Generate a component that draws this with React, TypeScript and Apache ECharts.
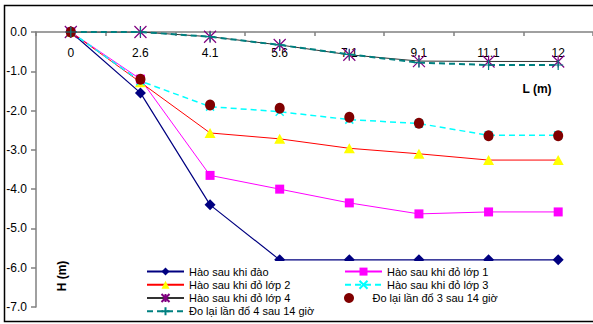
import React, { useEffect, useRef } from "react";
import * as echarts from "echarts";

// Distance along the trench (m) and measured depth H (m) at each station
const categories = ["0", "2.6", "4.1", "5.6", "7.1", "9.1", "11.1", "12"];
const afterDig = [0, -1.55, -4.4, -5.8, -5.8, -5.8, -5.8, -5.8];
const afterLayer1 = [0, -1.2, -3.65, -4.0, -4.35, -4.63, -4.58, -4.58];
const afterLayer2 = [0, -1.28, -2.57, -2.72, -2.96, -3.1, -3.26, -3.26];
const afterLayer3 = [0, -1.25, -1.9, -2.03, -2.23, -2.33, -2.63, -2.63];
const afterLayer4 = [0, 0, -0.12, -0.33, -0.58, -0.74, -0.75, -0.75];
const recheck3 = [0, -1.2, -1.86, -1.94, -2.17, -2.32, -2.64, -2.64];
const recheck4 = [0, 0, -0.12, -0.33, -0.57, -0.78, -0.84, -0.84];

const seriesNames = [
  "Hào sau khi đào",
  "Hào sau khi đỏ lớp 1",
  "Hào sau khi đỏ lớp 2",
  "Hào sau khi đỏ lớp 3",
  "Hào sau khi đỏ lớp 4",
  "Đo lại lần đổ 3 sau 14 giờ",
  "Đo lại lần đổ 4 sau 14 giờ",
];

const FONT = "'Liberation Sans', Arial, sans-serif";

const STAR = "path://M5,0L5,10M0,0L10,10M10,0L0,10";
const CROSS = "path://M0,0L10,10M10,0L0,10";
const PLUS = "path://M5,0L5,10M0,5L10,5";

export default function App() {
  const ref = useRef<HTMLDivElement>(null);

  useEffect(() => {
    document.body.style.margin = "0";
    if (!ref.current) return;
    const chart = echarts.init(ref.current, null, { renderer: "svg" });

    const option: any = {
      animation: false,
      backgroundColor: "#ffffff",
      textStyle: { fontFamily: FONT },
      grid: { left: 36, top: 32, bottom: 17, width: 560 },
      // depth 0 sits at the top edge, so the distance axis runs along the top
      xAxis: {
        type: "category",
        data: categories,
        position: "top",
        axisLine: { show: true, onZero: false, lineStyle: { color: "#808080", width: 1.5 } },
        axisTick: { show: true, inside: true, length: 4, lineStyle: { color: "#808080", width: 1.5 } },
        axisLabel: { inside: true, color: "#000", fontSize: 12, fontFamily: FONT, margin: 15 },
        splitLine: { show: false },
      },
      yAxis: {
        type: "value",
        min: -7,
        max: 0,
        interval: 1,
        axisLine: { show: true, lineStyle: { color: "#808080", width: 1.5 } },
        axisTick: { show: true, length: 5, lineStyle: { color: "#808080", width: 1.5 } },
        axisLabel: {
          color: "#000",
          fontSize: 12,
          fontFamily: FONT,
          margin: 9,
          formatter: (v: number) => v.toFixed(1),
        },
        splitLine: { show: false },
      },
      legend: {
        data: seriesNames,
        orient: "horizontal",
        left: 140,
        top: 261,
        width: 400,
        padding: [4, 5, 6, 6],
        backgroundColor: "#ffffff",
        itemGap: 0,
        itemWidth: 37,
        itemHeight: 10,
        textStyle: { color: "#000", fontSize: 11, fontFamily: FONT, width: 155, lineHeight: 13.2 },
      },
      series: [
        {
          name: seriesNames[0],
          type: "line",
          data: afterDig,
          symbol: "diamond",
          symbolSize: 11,
          lineStyle: { color: "#000080", width: 1.2 },
          itemStyle: { color: "#000080" },
        },
        {
          name: seriesNames[1],
          type: "line",
          data: afterLayer1,
          symbol: "rect",
          symbolSize: 9,
          lineStyle: { color: "#ff00ff", width: 1 },
          itemStyle: { color: "#ff00ff" },
        },
        {
          name: seriesNames[2],
          type: "line",
          data: afterLayer2,
          symbol: "triangle",
          symbolSize: [11, 10],
          lineStyle: { color: "#ff0000", width: 1 },
          itemStyle: { color: "#ffff00" },
        },
        {
          name: seriesNames[3],
          type: "line",
          data: afterLayer3,
          symbol: CROSS,
          symbolSize: 8,
          lineStyle: { color: "#00ffff", width: 1.5, type: [6, 4] },
          itemStyle: { color: "none", borderColor: "#00ffff", borderWidth: 1.5 },
        },
        {
          name: seriesNames[4],
          type: "line",
          data: afterLayer4,
          symbol: STAR,
          symbolSize: 12,
          lineStyle: { color: "#333333", width: 1 },
          itemStyle: { color: "none", borderColor: "#800080", borderWidth: 1.2 },
        },
        {
          name: seriesNames[5],
          type: "scatter",
          data: recheck3,
          symbol: "circle",
          symbolSize: [10, 11],
          z: 3,
          itemStyle: { color: "#800000", opacity: 1 },
        },
        {
          name: seriesNames[6],
          type: "line",
          data: recheck4,
          symbol: PLUS,
          symbolSize: 10,
          z: 3,
          lineStyle: { color: "#008080", width: 2, type: [6, 4] },
          itemStyle: { color: "none", borderColor: "#008080", borderWidth: 1.2 },
        },
      ],
      graphic: [
        {
          type: "rect",
          shape: { x: 4.5, y: 5.5, width: 600, height: 316 },
          style: { fill: "none", stroke: "#000", lineWidth: 1.5 },
          z: 10,
        },
        {
          type: "text",
          x: 537,
          y: 89,
          style: {
            text: "L (m)",
            fill: "#000",
            font: `bold 12px ${FONT}`,
            textAlign: "center",
            textVerticalAlign: "middle",
          },
        },
        {
          type: "text",
          x: 62,
          y: 276,
          rotation: Math.PI / 2,
          style: {
            text: "H (m)",
            fill: "#000",
            font: `bold 12px ${FONT}`,
            textAlign: "center",
            textVerticalAlign: "middle",
          },
        },
      ],
    };

    chart.setOption(option);
    return () => chart.dispose();
  }, []);

  return <div ref={ref} style={{ width: 593, height: 324 }} />;
}
